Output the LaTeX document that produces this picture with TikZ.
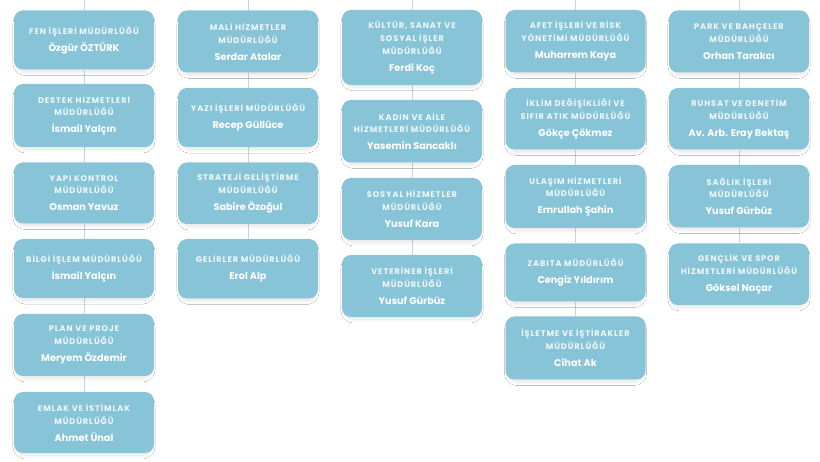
\documentclass[tikz,border=0pt]{standalone}
\usepackage{fontspec}
\usetikzlibrary{shadows.blur,backgrounds}
\newfontfamily\poptitle{Poppins}[LetterSpace=11]
\newfontfamily\popname{Poppins}
\definecolor{boxfill}{RGB}{135,196,215}
\definecolor{titletext}{RGB}{238,247,250}
\definecolor{linkline}{RGB}{198,210,226}
% title lines and the name line of a department box
\newcommand\ttl{\poptitle\bfseries\fontsize{8.2}{12.7}\selectfont\color{titletext}}
\newcommand\nm{\popname\bfseries\fontsize{9.7}{12.7}\selectfont\color{white}}
% \dept{name}{x}{top}{bottom}{title lines}{person}
\newcommand\dept[6]{%
  \node[deptbox, minimum height={(#4-#3)*1pt}] (#1) at (#2,{(#3+#4)/2})
    {#5\\[4.3pt]\nm #6};}
\tikzset{
  deptbox/.style={rectangle, rounded corners=9pt, fill=boxfill, draw=none,
    minimum width=140pt, align=center, inner sep=2pt, font=\ttl,
    blur shadow={shadow xshift=0pt, shadow yshift=-3.5pt, shadow scale=0.96,
      shadow blur radius=4pt, shadow blur steps=12, shadow opacity=12}},
  link/.style={draw=linkline, line width=1pt}
}
\begin{document}
\begin{tikzpicture}[x=1pt,y=-1pt]
\useasboundingbox (0,0) rectangle (820,462);

% column 1
\dept{a1}{84}{10.5}{69.5}{FEN İŞLERİ MÜDÜRLÜĞÜ}{Özgür ÖZTÜRK}
\dept{a2}{84}{84}{147}{DESTEK HİZMETLERİ\\MÜDÜRLÜĞÜ}{İsmail Yalçın}
\dept{a3}{84}{162.5}{223.5}{YAPI KONTROL\\MÜDÜRLÜĞÜ}{Osman Yavuz}
\dept{a4}{84}{239}{298}{BİLGİ İŞLEM MÜDÜRLÜĞÜ}{İsmail Yalçın}
\dept{a5}{84}{314}{376}{PLAN VE PROJE\\MÜDÜRLÜĞÜ}{Meryem Özdemir}
\dept{a6}{84}{392}{453}{EMLAK VE İSTİMLAK\\MÜDÜRLÜĞÜ}{Ahmet Ünal}

% column 2
\dept{b1}{248}{10.5}{72.5}{MALİ HİZMETLER\\MÜDÜRLÜĞÜ}{Serdar Atalar}
\dept{b2}{248}{88}{147}{YAZI İŞLERİ MÜDÜRLÜĞÜ}{Recep Güllüce}
\dept{b3}{248}{162.5}{224}{STRATEJİ GELİŞTİRME\\MÜDÜRLÜĞÜ}{Sabire Özoğul}
\dept{b4}{248}{239}{298.5}{GELİRLER MÜDÜRLÜĞÜ}{Erol Alp}

% column 3
\dept{c1}{412}{10}{85}{KÜLTÜR, SANAT VE\\SOSYAL İŞLER\\MÜDÜRLÜĞÜ}{Ferdi Koç}
\dept{c2}{412}{100}{162.5}{KADIN VE AİLE\\HİZMETLERİ MÜDÜRLÜĞÜ}{Yasemin Sancaklı}
\dept{c3}{412}{178}{240}{SOSYAL HİZMETLER\\MÜDÜRLÜĞÜ}{Yusuf Kara}
\dept{c4}{412}{255}{317}{VETERİNER İŞLERİ\\MÜDÜRLÜĞÜ}{Yusuf Gürbüz}

% column 4
\dept{d1}{575.5}{10}{72.5}{AFET İŞLERİ VE RİSK\\YÖNETİMİ MÜDÜRLÜĞÜ}{Muharrem Kaya}
\dept{d2}{575.5}{88}{149.5}{İKLİM DEĞİŞİKLİĞİ VE\\SIFIR ATIK MÜDÜRLÜĞÜ}{Gökçe Çökmez}
\dept{d3}{575.5}{165}{228}{ULAŞIM HİZMETLERİ\\MÜDÜRLÜĞÜ}{Emrullah Şahin}
\dept{d4}{575.5}{243.5}{301.5}{ZABITA MÜDÜRLÜĞÜ}{Cengiz Yıldırım}
\dept{d5}{575.5}{316.5}{379.5}{İŞLETME VE İŞTİRAKLER\\MÜDÜRLÜĞÜ}{Cihat Ak}

% column 5
\dept{e1}{739}{10.5}{72.5}{PARK VE BAHÇELER\\MÜDÜRLÜĞÜ}{Orhan Tarakcı}
\dept{e2}{739}{88}{149.5}{RUHSAT VE DENETİM\\MÜDÜRLÜĞÜ}{Av. Arb. Eray Bektaş}
\dept{e3}{739}{165}{227.5}{SAĞLIK İŞLERİ\\MÜDÜRLÜĞÜ}{Yusuf Gürbüz}
\dept{e4}{739}{243.5}{305}{GENÇLİK VE SPOR\\HİZMETLERİ MÜDÜRLÜĞÜ}{Göksel Naçar}

% entry points of each column at the top edge
\coordinate (ta) at (84,0);
\coordinate (tb) at (248,0);
\coordinate (tc) at (412,0);
\coordinate (td) at (575.5,0);
\coordinate (te) at (739,0);

\begin{scope}[on background layer]
\fill[white] (0,0) rectangle (820,462);
\draw[link] (ta) -- (a1) -- (a2) -- (a3) -- (a4) -- (a5) -- (a6);
\draw[link] (tb) -- (b1) -- (b2) -- (b3) -- (b4);
\draw[link] (tc) -- (c1) -- (c2) -- (c3) -- (c4);
\draw[link] (td) -- (d1) -- (d2) -- (d3) -- (d4) -- (d5);
\draw[link] (te) -- (e1) -- (e2) -- (e3) -- (e4);
\end{scope}
\end{tikzpicture}
\end{document}
